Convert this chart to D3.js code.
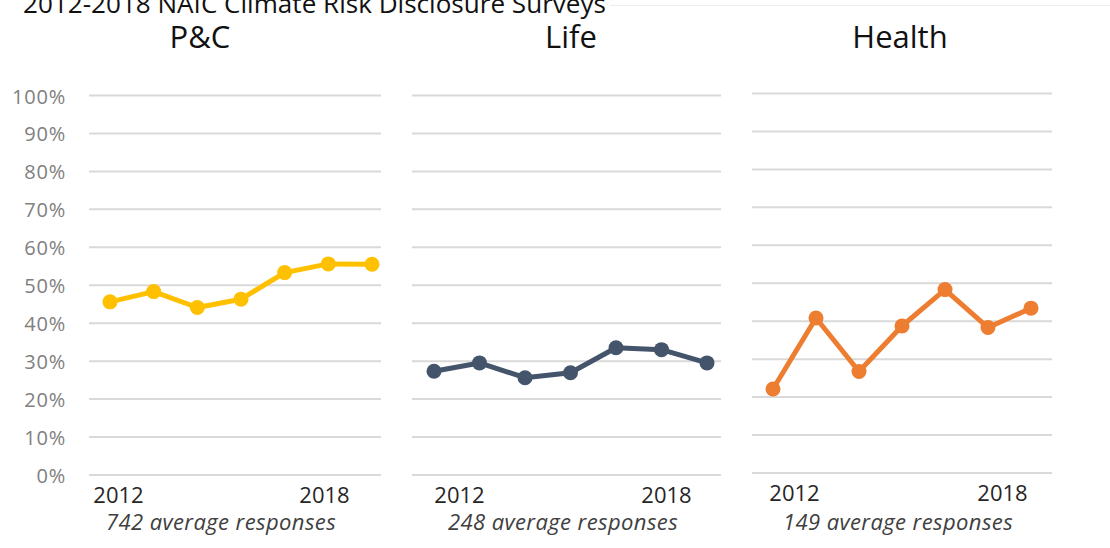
<!DOCTYPE html>
<html>
<head>
<meta charset="utf-8">
<script src="https://cdn.jsdelivr.net/npm/d3@7"></script>
<style>
  html, body { margin: 0; padding: 0; background: #fff; }
  svg { display: block; font-family: "Open Sans", sans-serif; }
</style>
</head>
<body>
<svg id="chart" width="1110" height="548"></svg>
<script>
// ---- data ----
const years = [2012, 2013, 2014, 2015, 2016, 2017, 2018];
const yearTickLabels = [2012, 2018];
const pctTicks = [0, 10, 20, 30, 40, 50, 60, 70, 80, 90, 100];
const panelNames = ["P&C", "Life", "Health"];
const pcValues = [45.5, 48.2, 44.0, 46.2, 53.2, 55.5, 55.4];
const lifeValues = [27.2, 29.4, 25.5, 26.8, 33.4, 32.9, 29.4];
const healthValues = [22.0, 40.7, 26.6, 38.6, 48.2, 38.2, 43.3];
const responseNotes = ["742 average responses", "248 average responses", "149 average responses"];
const chartTitle = "2012-2018 NAIC Climate Risk Disclosure Surveys";

// ---- layout / style ----
const colors = ["#FFC000", "#44546A", "#ED7D31"];
const layout = [
  { gx0: 89,  gx1: 381,  px0: 110, px1: 372,  lx0: 118, lx1: 324,  sub: 221, title: 200, dy: 0 },
  { gx0: 412, gx1: 721,  px0: 434, px1: 707,  lx0: 459, lx1: 666,  sub: 563, title: 571, dy: 0 },
  { gx0: 752, gx1: 1052, px0: 773, px1: 1031, lx0: 794, lx1: 1002, sub: 898, title: 900, dy: -2 }
];
const seriesValues = [pcValues, lifeValues, healthValues];

const svg = d3.select("#chart");

// faint separator line at the top right
svg.append("line")
  .attr("x1", 610).attr("x2", 1110).attr("y1", 5.5).attr("y2", 5.5)
  .attr("stroke", "#EEEEEE").attr("stroke-width", 1);

svg.append("text")
  .attr("x", 23).attr("y", 12.5)
  .attr("font-size", 26).attr("fill", "#111")
  .attr("textLength", 583).attr("lengthAdjust", "spacingAndGlyphs")
  .text(chartTitle);

panelNames.forEach((name, i) => {
  const L = layout[i];
  const g = svg.append("g").attr("transform", `translate(0,${L.dy})`);
  const y = d3.scaleLinear().domain([0, 100]).range([474.5, 95]);
  const x = d3.scalePoint().domain(years).range([L.px0, L.px1]);
  const xLab = d3.scalePoint().domain(years).range([L.lx0, L.lx1]);

  // gridlines
  const grid = g.append("g")
    .attr("transform", `translate(${L.gx0},0)`)
    .call(d3.axisLeft(y).tickValues(pctTicks).tickSize(-(L.gx1 - L.gx0)).tickFormat(""));
  grid.select(".domain").remove();
  grid.selectAll(".tick line").attr("stroke", "#D9D9D9").attr("stroke-width", 2);

  // y labels only on first panel
  if (i === 0) {
    const ya = g.append("g")
      .attr("transform", `translate(66,0)`)
      .call(d3.axisLeft(y).tickValues(pctTicks).tickSize(0).tickPadding(0).tickFormat(d => d + "%"));
    ya.select(".domain").remove();
    ya.selectAll("text")
      .attr("font-family", "Open Sans, sans-serif")
      .attr("font-size", 20).attr("fill", "#808080")
      .attr("letter-spacing", 0.8)
      .attr("dy", "0.4em");
  }

  // year labels
  const xa = g.append("g")
    .attr("transform", `translate(0,495)`)
    .call(d3.axisBottom(xLab).tickValues(yearTickLabels).tickSize(0).tickPadding(0));
  xa.select(".domain").remove();
  xa.selectAll("text")
    .attr("font-family", "Open Sans, sans-serif")
    .attr("font-size", 22).attr("fill", "#262626")
    .attr("dy", "0.35em");

  // line
  const line = d3.line().x((d, k) => x(years[k])).y(d => y(d));
  g.append("path")
    .datum(seriesValues[i])
    .attr("d", line)
    .attr("fill", "none")
    .attr("stroke", colors[i])
    .attr("stroke-width", 5)
    .attr("stroke-linejoin", "round");

  g.selectAll("circle.pt")
    .data(seriesValues[i])
    .join("circle")
    .attr("class", "pt")
    .attr("cx", (d, k) => x(years[k]))
    .attr("cy", d => y(d))
    .attr("r", 7.5)
    .attr("fill", colors[i]);

  // panel title
  svg.append("text")
    .attr("x", L.title).attr("y", 48)
    .attr("text-anchor", "middle")
    .attr("font-size", 31).attr("fill", "#111")
    .text(name);

  // subtitle
  svg.append("text")
    .attr("x", L.sub).attr("y", 530)
    .attr("text-anchor", "middle")
    .attr("font-size", 22).attr("font-style", "italic").attr("fill", "#404040")
    .attr("letter-spacing", 0.4)
    .text(responseNotes[i]);
});
</script>
</body>
</html>
